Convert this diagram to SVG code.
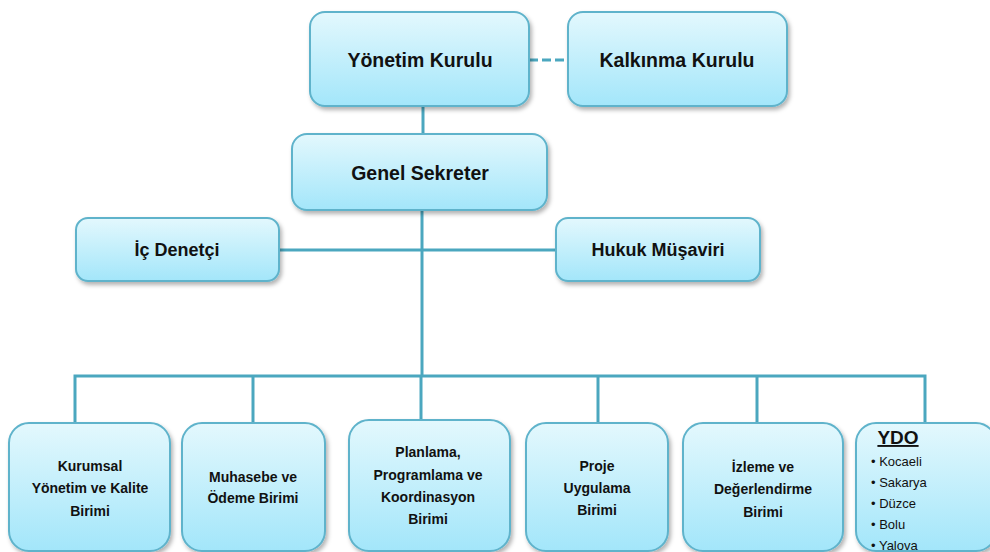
<svg xmlns="http://www.w3.org/2000/svg" width="990" height="552" viewBox="0 0 990 552">
<defs>
<linearGradient id="g" x1="0" y1="0" x2="0" y2="1">
<stop offset="0" stop-color="#e3f8fd"/>
<stop offset="1" stop-color="#a3e6fa"/>
</linearGradient>
<filter id="sh" x="-10%" y="-10%" width="125%" height="130%">
<feDropShadow dx="2" dy="3" stdDeviation="2" flood-color="#000" flood-opacity="0.3"/>
</filter>
</defs>
<style>
.box{fill:url(#g);stroke:#5fb3cb;stroke-width:2;filter:url(#sh)}
.con{stroke:#4ba7bf;stroke-width:3;fill:none}
.t{font-family:"Liberation Sans",Arial,sans-serif;font-weight:bold;fill:#111;text-anchor:middle}
.big{font-size:18px}
.top{font-size:19.5px}
.sm{font-size:14px}
.li{font-family:"Liberation Sans",Arial,sans-serif;font-size:13px;fill:#111}
</style>
<rect width="990" height="552" fill="#fff"/>
<g id="connectors">
<line class="con" x1="529" y1="60" x2="568" y2="60" stroke-dasharray="9,4" stroke-width="3.5"/>
<line class="con" x1="423" y1="106" x2="423" y2="134"/>
<line class="con" x1="422" y1="210" x2="422" y2="376"/>
<line class="con" x1="279" y1="250" x2="556" y2="250"/>
<polyline class="con" points="75,423 75,376 925,376 925,423"/>
<line class="con" x1="253" y1="376" x2="253" y2="423"/>
<line class="con" x1="421" y1="376" x2="421" y2="420"/>
<line class="con" x1="598" y1="376" x2="598" y2="423"/>
<line class="con" x1="757" y1="376" x2="757" y2="423"/>
</g>
<g id="yonetim">
<rect class="box" x="310" y="12" width="219" height="94" rx="15"/>
<text class="t top" x="420" y="67">Yönetim Kurulu</text>
</g>
<g id="kalkinma">
<rect class="box" x="568" y="12" width="219" height="94" rx="15"/>
<text class="t top" x="677" y="67">Kalkınma Kurulu</text>
</g>
<g id="genel">
<rect class="box" x="292" y="134" width="255" height="76" rx="15"/>
<text class="t top" x="420" y="180">Genel Sekreter</text>
</g>
<g id="icdenetci">
<rect class="box" x="76" y="218" width="203" height="63" rx="12"/>
<text class="t big" x="177" y="256">İç Denetçi</text>
</g>
<g id="hukuk">
<rect class="box" x="556" y="218" width="204" height="63" rx="12"/>
<text class="t big" x="658" y="256">Hukuk Müşaviri</text>
</g>
<g id="kurumsal">
<rect class="box" x="9" y="423" width="161" height="128" rx="20"/>
<text class="t sm" x="90" y="471">Kurumsal</text>
<text class="t sm" x="90" y="493">Yönetim ve Kalite</text>
<text class="t sm" x="90" y="516">Birimi</text>
</g>
<g id="muhasebe">
<rect class="box" x="182" y="423" width="143" height="128" rx="20"/>
<text class="t sm" x="253" y="482">Muhasebe ve</text>
<text class="t sm" x="253" y="503">Ödeme Birimi</text>
</g>
<g id="planlama">
<rect class="box" x="349" y="420" width="161" height="131" rx="20"/>
<text class="t sm" x="428" y="457">Planlama,</text>
<text class="t sm" x="428" y="480">Programlama ve</text>
<text class="t sm" x="428" y="502">Koordinasyon</text>
<text class="t sm" x="428" y="524">Birimi</text>
</g>
<g id="proje">
<rect class="box" x="526" y="423" width="142" height="128" rx="20"/>
<text class="t sm" x="597" y="471">Proje</text>
<text class="t sm" x="597" y="493">Uygulama</text>
<text class="t sm" x="597" y="515">Birimi</text>
</g>
<g id="izleme">
<rect class="box" x="683" y="423" width="160" height="128" rx="20"/>
<text class="t sm" x="763" y="472">İzleme ve</text>
<text class="t sm" x="763" y="494">Değerlendirme</text>
<text class="t sm" x="763" y="517">Birimi</text>
</g>
<g id="ydo">
<rect class="box" x="856" y="423" width="140" height="128" rx="20"/>
<text class="t" x="898" y="444" font-size="19" text-decoration="underline">YDO</text>
<text class="li" x="871" y="466">• Kocaeli</text>
<text class="li" x="871" y="487">• Sakarya</text>
<text class="li" x="871" y="508">• Düzce</text>
<text class="li" x="871" y="529">• Bolu</text>
<text class="li" x="871" y="550">• Yalova</text>
</g>
</svg>
